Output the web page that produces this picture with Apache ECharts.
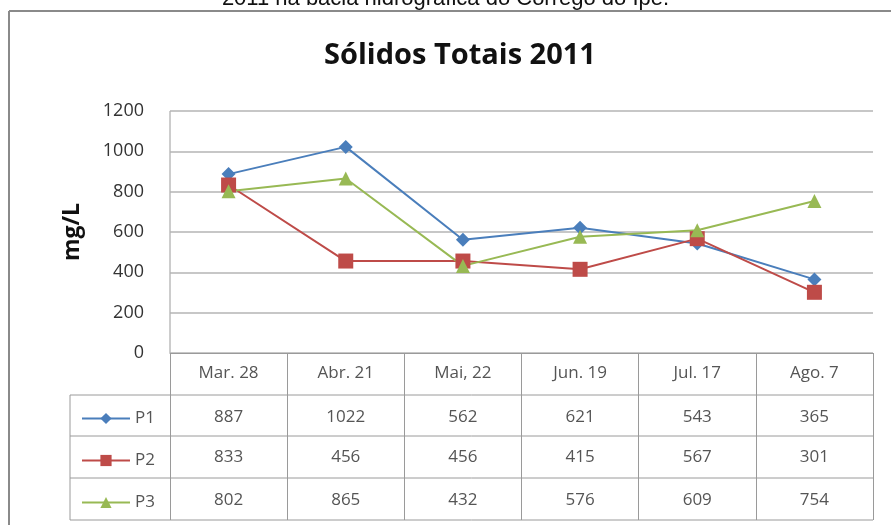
<!DOCTYPE html>
<html>
<head>
<meta charset="utf-8">
<script src="https://cdn.jsdelivr.net/npm/echarts@6/dist/echarts.min.js"></script>
<style>
  html, body { margin: 0; padding: 0; background: #fff; }
  #chart { width: 891px; height: 525px; }
</style>
</head>
<body>
<div id="chart"></div>
<script>
// dados do gráfico
var categorias = ["Mar. 28", "Abr. 21", "Mai, 22", "Jun. 19", "Jul. 17", "Ago. 7"];
var p1 = [887, 1022, 562, 621, 543, 365];
var p2 = [833, 456, 456, 415, 567, 301];
var p3 = [802, 865, 432, 576, 609, 754];
var yTicks = [0, 200, 400, 600, 800, 1000, 1200];

var fonte = "'Open Sans', 'Noto Sans', sans-serif";
var cinza = "#9a9a9a";
var gridL = 170, gridR = 873, gridT = 111, gridB = 353;
var linhas = [395, 436, 478, 520]; // linhas da tabela

var myChart = echarts.init(document.getElementById("chart"));

// eixos extras para as linhas da tabela
function eixoLinha(valores, offset) {
  return {
    type: "category",
    data: categorias,
    position: "bottom",
    offset: offset,
    axisLine: { show: false },
    axisTick: { show: false },
    axisLabel: {
      interval: 0,
      margin: 12,
      fontSize: 17,
      fontFamily: fonte,
      color: "#555",
      formatter: function (v, i) { return String(valores[i]); }
    }
  };
}

var graficos = [
  // legenda/título de cima (cortado)
  {
    type: "text", left: "center", top: -12,
    style: { text: "2011 na bacia hidrográfica do Córrego do Ipê.", font: "22px 'Liberation Sans', Arial, sans-serif", fill: "#111" }
  },
  // moldura
  { type: "line", shape: { x1: 9, y1: 11, x2: 891, y2: 11 }, style: { stroke: "#8a8a8a", lineWidth: 2 } },
  { type: "line", shape: { x1: 9, y1: 11, x2: 9, y2: 525 }, style: { stroke: "#8a8a8a", lineWidth: 2 } },
  // coluna da legenda
  { type: "line", shape: { x1: 70, y1: linhas[0], x2: 70, y2: linhas[3] }, style: { stroke: cinza, lineWidth: 1 } },
  { type: "line", shape: { x1: gridL, y1: gridT, x2: gridL, y2: gridB }, style: { stroke: cinza, lineWidth: 1 } }
];
linhas.forEach(function (y) {
  graficos.push({ type: "line", shape: { x1: 70, y1: y, x2: gridR, y2: y }, style: { stroke: cinza, lineWidth: 1 } });
});

myChart.setOption({
  backgroundColor: "#fff",
  animation: false,
  title: {
    text: "Sólidos Totais 2011",
    left: 455,
    textAlign: "center",
    top: 36,
    textStyle: { fontFamily: fonte, fontSize: 29, fontWeight: "bold", color: "#111" }
  },
  legend: {
    orient: "vertical",
    left: 76,
    top: 405,
    itemWidth: 48,
    itemHeight: 14,
    itemGap: 25,
    textStyle: { fontFamily: fonte, fontSize: 17, color: "#555" },
    data: ["P1", "P2", "P3"]
  },
  grid: { left: gridL, right: 891 - gridR, top: gridT, bottom: 525 - gridB },
  xAxis: [
    {
      type: "category",
      data: categorias,
      boundaryGap: true,
      axisLine: { lineStyle: { color: cinza } },
      axisTick: { show: true, length: 167, lineStyle: { color: cinza } },
      axisLabel: { interval: 0, margin: 12, fontSize: 17, fontFamily: fonte, color: "#555" }
    },
    eixoLinha(p1, 44),
    eixoLinha(p2, 84),
    eixoLinha(p3, 127)
  ],
  yAxis: {
    type: "value",
    min: yTicks[0],
    max: yTicks[yTicks.length - 1],
    interval: 200,
    name: "mg/L",
    nameLocation: "middle",
    nameGap: 86,
    nameRotate: 90,
    nameTextStyle: { fontFamily: fonte, fontSize: 23, fontWeight: "bold", color: "#111" },
    axisLine: { show: false },
    axisTick: { show: false },
    axisLabel: {
      margin: 26, fontSize: 18, fontFamily: fonte, color: "#333",
      formatter: function (v) { return String(v); }
    },
    splitLine: { lineStyle: { color: "#b5b5b5", width: 1.5 } }
  },
  series: [
    {
      name: "P1", type: "line", data: p1,
      symbol: "diamond", symbolSize: 14,
      itemStyle: { color: "#4a7ebb" },
      lineStyle: { color: "#4a7ebb", width: 2 }
    },
    {
      name: "P2", type: "line", data: p2,
      symbol: "rect", symbolSize: 15,
      itemStyle: { color: "#be4b48" },
      lineStyle: { color: "#be4b48", width: 2 }
    },
    {
      name: "P3", type: "line", data: p3,
      symbol: "triangle", symbolSize: 14,
      itemStyle: { color: "#98b954" },
      lineStyle: { color: "#98b954", width: 2 }
    }
  ],
  graphic: graficos
});
</script>
</body>
</html>
